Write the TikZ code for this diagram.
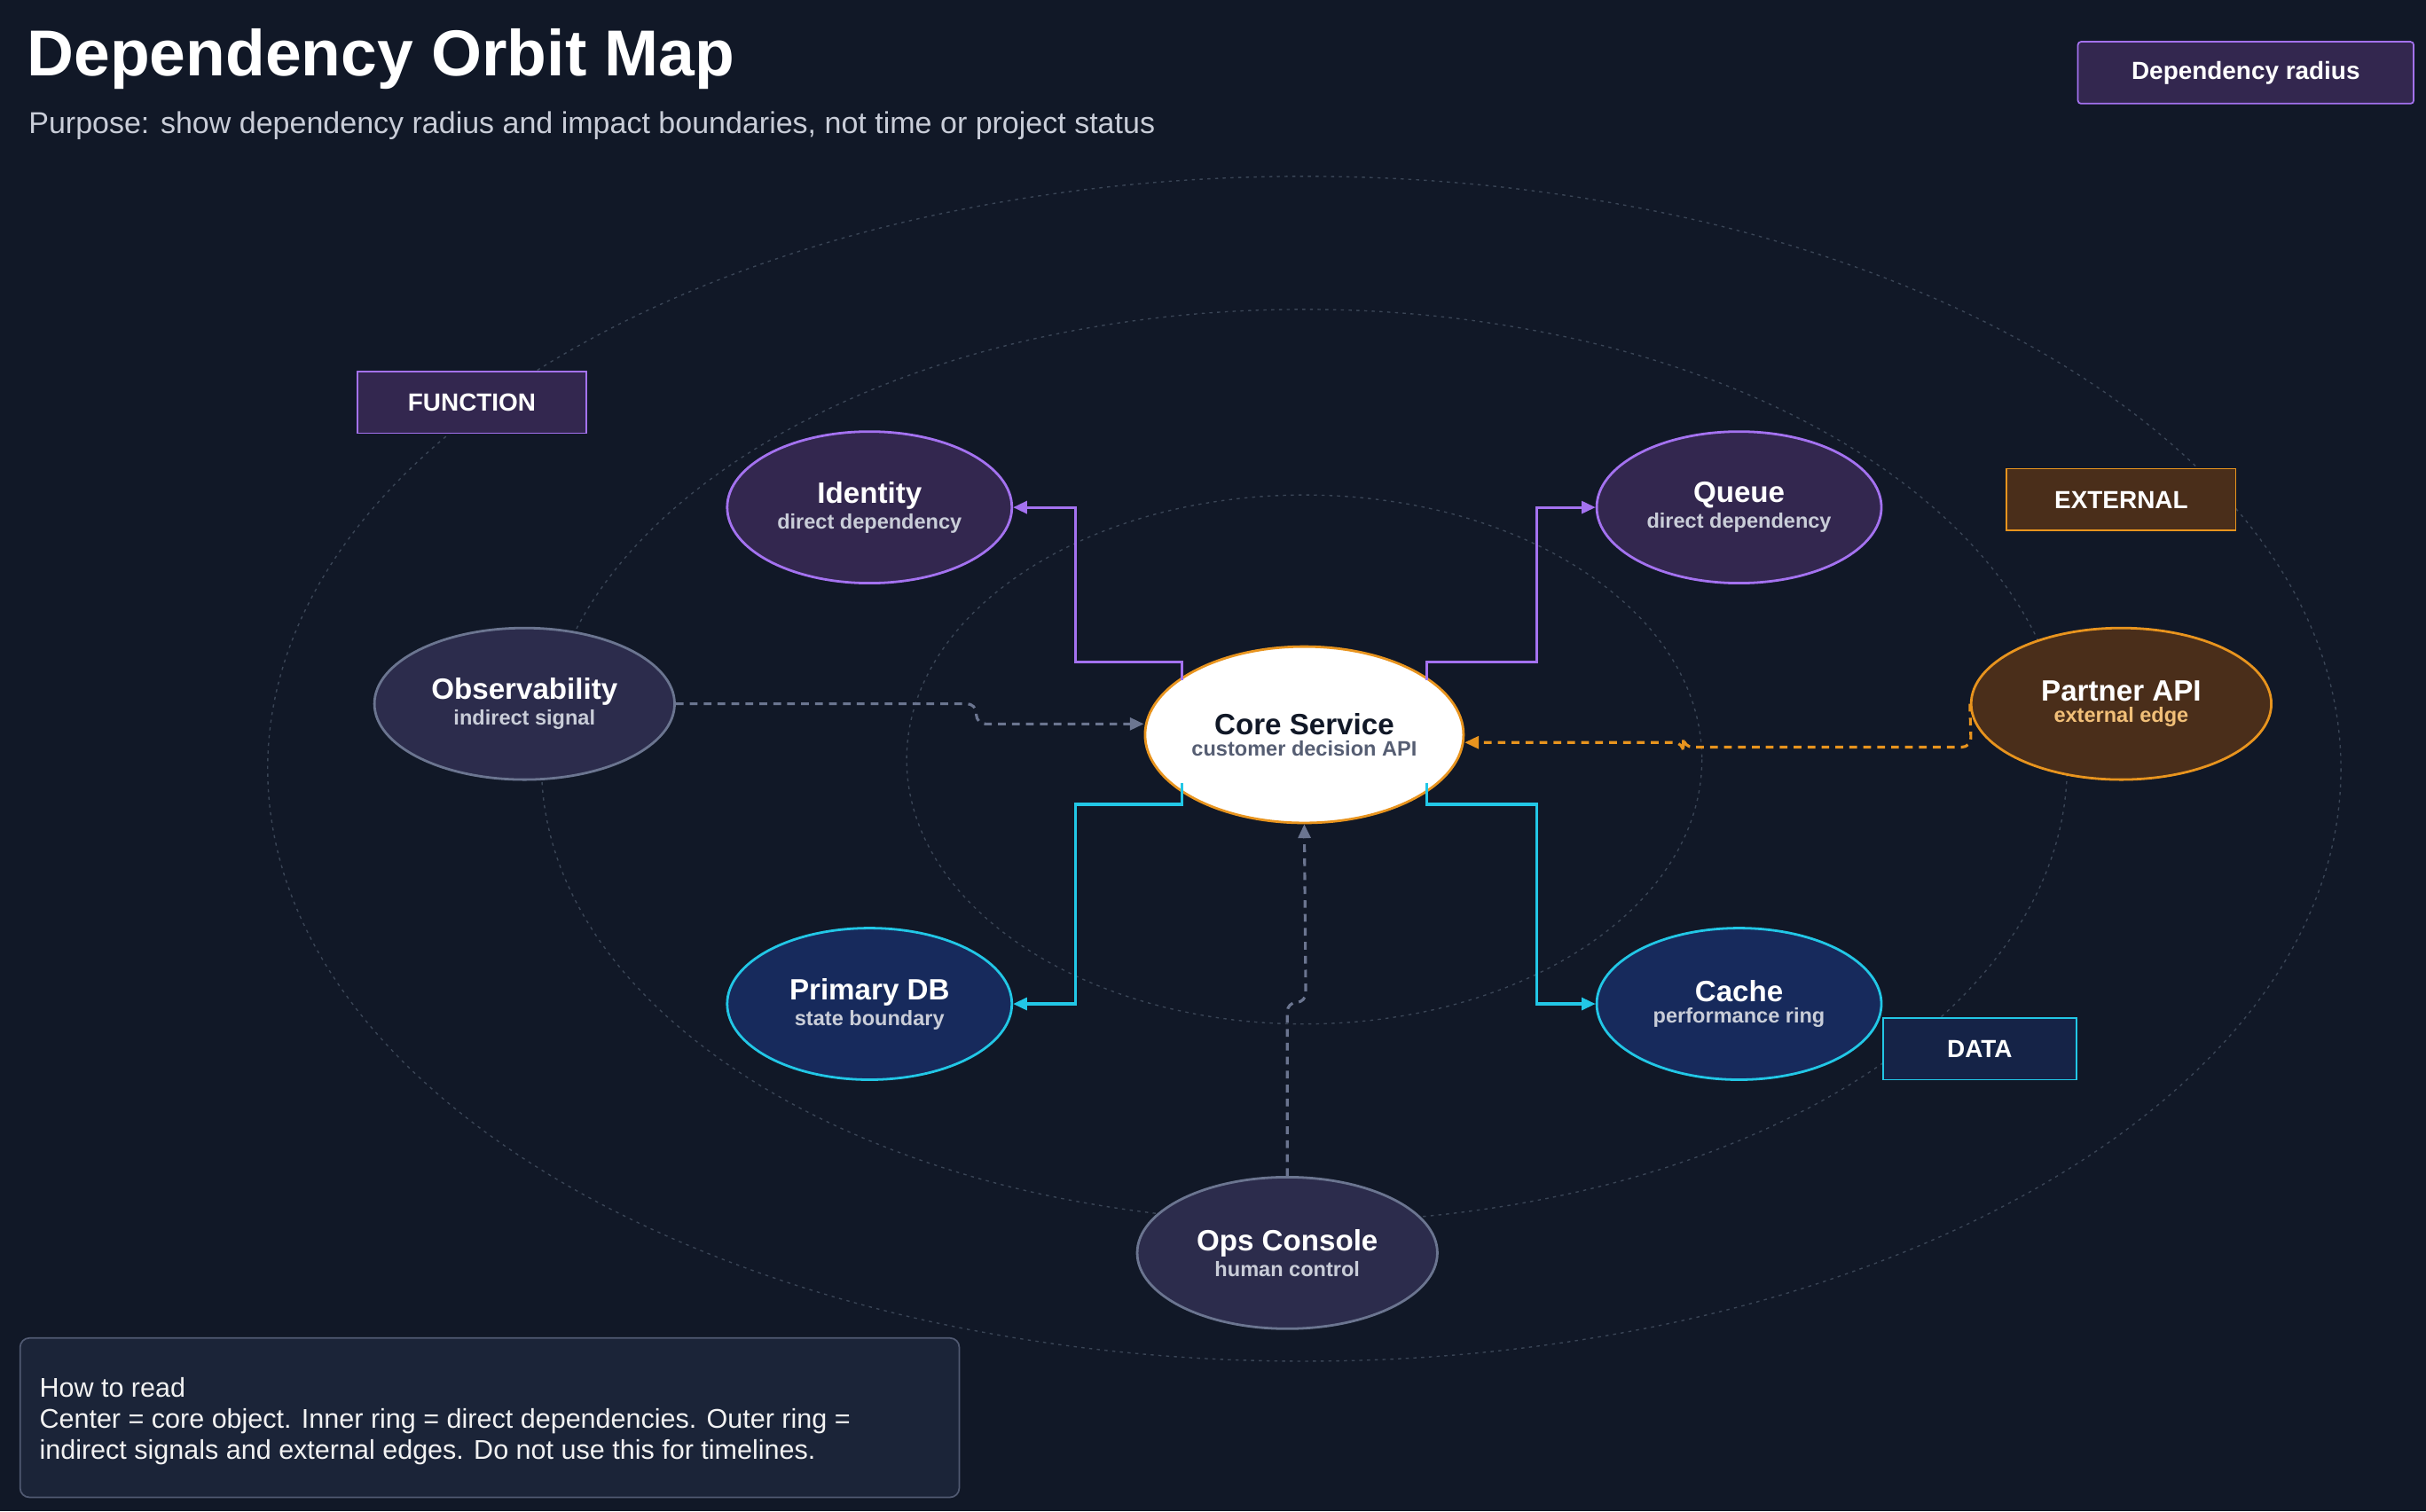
\documentclass[tikz,border=0pt]{standalone}
\usepackage{fontspec}
\setmainfont{Liberation Sans}
\usetikzlibrary{shapes.geometric,arrows.meta}
\definecolor{bg}{HTML}{111827}
\definecolor{ring}{HTML}{3A4556}
\definecolor{purp}{HTML}{A472F0}
\definecolor{purpf}{HTML}{33274F}
\definecolor{cyan}{HTML}{22C7E6}
\definecolor{cyanf}{HTML}{172A5C}
\definecolor{org}{HTML}{E8941E}
\definecolor{orgf}{HTML}{4A2E1A}
\definecolor{gry}{HTML}{6B7590}
\definecolor{gryf}{HTML}{2C2C4C}
\definecolor{sub}{HTML}{C9CDD8}
\definecolor{boxf}{HTML}{1B2438}
\begin{document}
\begin{tikzpicture}[x=1pt,y=-1pt,
 ell/.style={ellipse,draw,line width=1.6pt,minimum width=184pt,minimum height=98pt,align=center,inner sep=0pt},
 tag/.style={draw,line width=1pt,text=white,font=\bfseries\fontsize{16}{16}\selectfont,inner sep=0pt,minimum height=40pt},
 ringst/.style={draw=ring,dash pattern=on 2pt off 3pt,line width=0.8pt},
 con/.style={line width=1.8pt,-{Triangle[length=9pt,width=8pt]}},
 dsh/.style={con,dash pattern=on 5pt off 4pt,rounded corners=6pt}]
\fill[bg] (0,0) rectangle (1568,977);
\useasboundingbox (0,0) rectangle (1568,977);
\draw[ringst] (843,497) ellipse [x radius=670,y radius=383];
\draw[ringst] (843,495) ellipse [x radius=493,y radius=295];
\draw[ringst] (843,491) ellipse [x radius=257,y radius=171];
\node[anchor=west,text=white,font=\bfseries\fontsize{42}{42}\selectfont] (title) at (14,38) {Dependency Orbit Map};
\node[anchor=west,text=sub,font=\fontsize{19.5}{20}\selectfont] (purpose) at (15,81) {Purpose: show dependency radius and impact boundaries, not time or project status};
\node[tag,draw=purp,fill=purpf,minimum width=217pt,rounded corners=2pt] (radius) at (1451.5,47) {Dependency radius};
\node[tag,draw=purp,fill=purpf,minimum width=148pt] (function) at (305,260) {FUNCTION};
\node[tag,draw=org,fill=orgf,minimum width=148pt] (external) at (1371,323) {EXTERNAL};
\node[tag,draw=cyan,fill=cyanf!60!bg,minimum width=125pt] (data) at (1279.5,678) {DATA};
\newcommand{\nl}[2]{{\bfseries\fontsize{19}{22}\selectfont #1}\\[2pt]{\bfseries\fontsize{13.5}{15}\selectfont #2}}
\node[ell,draw=org,fill=white,minimum width=194pt,minimum height=114pt,text=bg] (core) at (843,475) {\nl{Core Service}{\color{gry!80!black}customer decision API}};
\node[ell,draw=purp,fill=purpf,text=white] (identity) at (562,328) {\nl{Identity}{\color{sub}direct dependency}};
\node[ell,draw=purp,fill=purpf,text=white] (queue) at (1124,328) {\nl{Queue}{\color{sub}direct dependency}};
\node[ell,draw=gry,fill=gryf,text=white,minimum width=194pt] (obs) at (339,455) {\nl{Observability}{\color{sub}indirect signal}};
\node[ell,draw=org,fill=orgf,text=white,minimum width=194pt] (partner) at (1371,455) {\nl{Partner API}{\color{org!60!white}external edge}};
\node[ell,draw=cyan,fill=cyanf,text=white] (db) at (562,649) {\nl{Primary DB}{\color{sub}state boundary}};
\node[ell,draw=cyan,fill=cyanf,text=white] (cache) at (1124,649) {\nl{Cache}{\color{sub}performance ring}};
\node[ell,draw=gry,fill=gryf,text=white,minimum width=194pt] (ops) at (832,810) {\nl{Ops Console}{\color{sub}human control}};
\draw[con,purp] (764,440) -- (764,428) -- (695,428) -- (695,328) -- (identity.east);
\draw[con,purp] (922,440) -- (922,428) -- (993,428) -- (993,328) -- (queue.west);
\draw[con,cyan] (764,506) -- (764,520) -- (695,520) -- (695,649) -- (db.east);
\draw[con,cyan] (922,506) -- (922,520) -- (993,520) -- (993,649) -- (cache.west);
\draw[dsh,gry] (obs.east) -- (631,455) -- (631,468) -- (core.west |- 0,468);
\draw[dsh,org] (partner.west) -- (1274,483) -- (1088,483) -- (1088,480) -- (core.east |- 0,480);
\draw[dsh,gry] (ops.north) -- (832,648) -- (844,648) -- (core.south);
\node[draw=gry!70!bg,fill=boxf,line width=1pt,rounded corners=6pt,minimum width=607pt,minimum height=103pt] (howbox) at (316.5,916.5) {};
\node[anchor=north west,text=white!90!gray,align=left,font=\fontsize{17.5}{20}\selectfont] (how) at (22,887) {How to read\\Center = core object. Inner ring = direct dependencies. Outer ring =\\indirect signals and external edges. Do not use this for timelines.};
\end{tikzpicture}
\end{document}
